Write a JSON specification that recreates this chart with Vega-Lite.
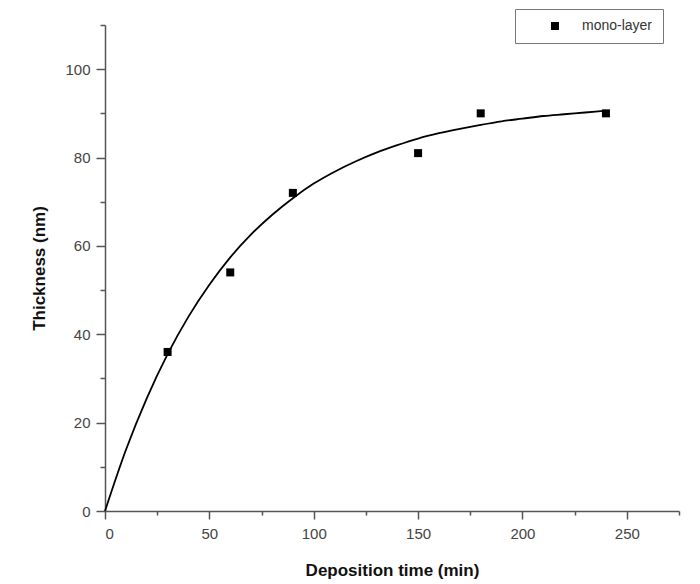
{
  "$schema": "https://vega.github.io/schema/vega-lite/v6.json",
  "autosize": "none",
  "width": 574,
  "height": 486,
  "padding": {"left": 105, "top": 25, "right": 21, "bottom": 73},
  "background": "white",
  "config": {
    "view": {"stroke": null},
    "font": "Liberation Sans",
    "axis": {
      "grid": false,
      "domainColor": "#555",
      "domainWidth": 1.5,
      "tickColor": "#555",
      "tickWidth": 1.5,
      "labelColor": "#444",
      "labelFont": "Liberation Sans",
      "labelFontSize": 15,
      "titleFont": "Liberation Sans",
      "titleFontSize": 17,
      "titleFontWeight": "bold",
      "titleColor": "#111"
    }
  },
  "datasets": {
    "measured": [
      {"time": 30, "thickness": 36, "series": "mono-layer"},
      {"time": 60, "thickness": 54, "series": "mono-layer"},
      {"time": 90, "thickness": 72, "series": "mono-layer"},
      {"time": 150, "thickness": 81, "series": "mono-layer"},
      {"time": 180, "thickness": 90, "series": "mono-layer"},
      {"time": 240, "thickness": 90, "series": "mono-layer"}
    ],
    "fit": [
      {"time": 0, "thickness": 0},
      {"time": 10, "thickness": 13.8},
      {"time": 20, "thickness": 25.5},
      {"time": 30, "thickness": 35.5},
      {"time": 40, "thickness": 44.0},
      {"time": 50, "thickness": 51.2},
      {"time": 60, "thickness": 57.4},
      {"time": 70, "thickness": 62.6},
      {"time": 80, "thickness": 67.0},
      {"time": 90, "thickness": 70.8},
      {"time": 100, "thickness": 74.1},
      {"time": 110, "thickness": 76.8},
      {"time": 120, "thickness": 79.1},
      {"time": 130, "thickness": 81.1},
      {"time": 140, "thickness": 82.8},
      {"time": 150, "thickness": 84.3},
      {"time": 160, "thickness": 85.5},
      {"time": 170, "thickness": 86.5},
      {"time": 180, "thickness": 87.4},
      {"time": 190, "thickness": 88.2},
      {"time": 200, "thickness": 88.8},
      {"time": 210, "thickness": 89.4},
      {"time": 220, "thickness": 89.8},
      {"time": 230, "thickness": 90.2},
      {"time": 240, "thickness": 90.6}
    ]
  },
  "layer": [
    {
      "data": {"name": "fit"},
      "mark": {"type": "line", "color": "black", "strokeWidth": 1.8, "interpolate": "monotone"},
      "encoding": {
        "x": {
          "field": "time",
          "type": "quantitative",
          "scale": {"domain": [0, 275], "nice": false},
          "axis": {
            "title": "Deposition time (min)",
            "values": [0, 25, 50, 75, 100, 125, 150, 175, 200, 225, 250, 275],
            "labelExpr": "datum.value % 50 === 0 ? datum.label : ''",
            "tickSize": {"condition": {"test": "datum.value % 50 === 0", "value": 8}, "value": 4},
            "labelPadding": 7,
            "titlePadding": 21
          }
        },
        "y": {
          "field": "thickness",
          "type": "quantitative",
          "scale": {"domain": [0, 110], "nice": false},
          "axis": {
            "title": "Thickness (nm)",
            "values": [0, 10, 20, 30, 40, 50, 60, 70, 80, 90, 100, 110],
            "labelExpr": "datum.value % 20 === 0 && datum.value <= 100 ? datum.label : ''",
            "tickSize": {"condition": {"test": "datum.value % 20 === 0", "value": 9}, "value": 5},
            "labelPadding": 6,
            "titlePadding": 16
          }
        }
      }
    },
    {
      "data": {"name": "measured"},
      "mark": {"type": "point", "shape": "square", "filled": true, "size": 64, "opacity": 1},
      "encoding": {
        "x": {"field": "time", "type": "quantitative"},
        "y": {"field": "thickness", "type": "quantitative"},
        "color": {
          "field": "series",
          "type": "nominal",
          "scale": {"range": ["black"]},
          "legend": {
            "title": null,
            "orient": "none",
            "legendX": 410,
            "legendY": -16,
            "padding": 10,
            "strokeColor": "#777",
            "symbolType": "square",
            "symbolSize": 64,
            "symbolOffset": 23,
            "labelOffset": 20,
            "labelFont": "Liberation Sans",
            "labelFontSize": 14,
            "labelColor": "#333",
            "labelLimit": 300,
            "labelExpr": "datum.label + '                    '"
          }
        }
      }
    }
  ]
}
